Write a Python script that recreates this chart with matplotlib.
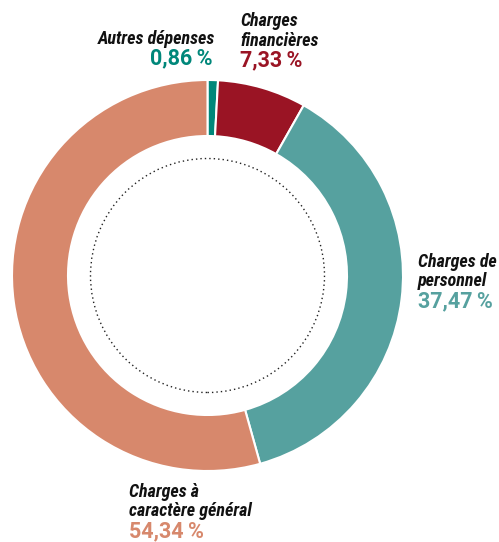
import matplotlib
matplotlib.use("Agg")
import matplotlib.pyplot as plt
from matplotlib.patches import Circle

categories = ["Autres dépenses", "Charges\nfinancières", "Charges de\npersonnel", "Charges à\ncaractère général"]
values = [0.86, 7.33, 37.47, 54.34]
colors = ["#00877A", "#9A1424", "#56A19F", "#D7886C"]

W, H = 499, 542
fig = plt.figure(figsize=(W / 100, H / 100), dpi=100)
cx, cy, R = 207.5, 275.5, 195.5
ax = fig.add_axes([(cx - R) / W, (H - cy - R) / H, 2 * R / W, 2 * R / H])
ax.pie(values, colors=colors, startangle=90, counterclock=False, radius=1.0,
       wedgeprops=dict(width=56 / R, edgecolor="white", linewidth=1.5))
ax.add_patch(Circle((0, 0), 117 / R, fill=False, linestyle=(0, (1, 2.2)), lw=1.0, color="#222222"))
ax.set_xlim(-1, 1)
ax.set_ylim(-1, 1)
ax.set_aspect("equal")
ax.axis("off")

lab_fam = ["Roboto Condensed", "DejaVu Sans"]
num_fam = ["Roboto", "DejaVu Sans"]

def fmt(v):
    return f"{v:.2f}".replace(".", ",") + "\u2009%"

# (x_px, baseline of first line in px, ha)
places = [(215, 44, "right"), (240, 26, "left"), (418, 267, "left"), (129, 497, "left")]
for cat, v, c, (x, y, ha) in zip(categories, values, colors, places):
    lines = cat.split("\n")
    for i, line in enumerate(lines):
        fig.text(x / W, 1 - (y + 19.5 * i) / H, line, ha=ha, va="baseline", fontsize=13,
                 fontstyle="italic", fontweight="bold", family=lab_fam, color="#111111")
    yb = y + 19.5 * (len(lines) - 1) + 20.5
    fig.text((x - 2 if ha == "right" else x) / W, 1 - yb / H, fmt(v), ha=ha, va="baseline",
             fontsize=15.5, fontweight="bold", family=num_fam, color=c)

fig.savefig("out.png", dpi=100)
